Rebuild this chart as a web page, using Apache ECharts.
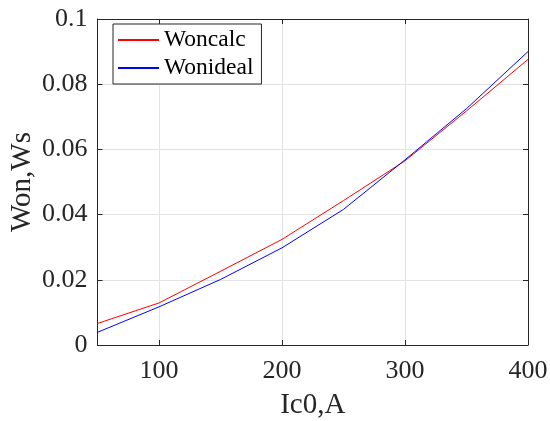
<!DOCTYPE html>
<html>
<head>
<meta charset="utf-8">
<script src="https://cdn.jsdelivr.net/npm/echarts@6/dist/echarts.min.js"></script>
<style>
  html, body { margin: 0; padding: 0; background: #fff; }
  #chart { width: 550px; height: 421px; }
</style>
</head>
<body>
<div id="chart"></div>
<script>
// Turn-on energy versus collector current
const current = [50, 100, 150, 200, 250, 300, 350, 400];
const wonCalc = [0.0066, 0.0129, 0.0226, 0.0324, 0.0443, 0.0565, 0.0718, 0.0876];
const wonIdeal = [0.0039, 0.0117, 0.0201, 0.0298, 0.0416, 0.0568, 0.0725, 0.0900];
const seriesNames = ['Woncalc', 'Wonideal'];
const xTicks = [100, 200, 300, 400];
const yTicks = [0, 0.02, 0.04, 0.06, 0.08, 0.1];

const FONT = '"Liberation Serif", "Times New Roman", serif';
const AXIS = '#262626';
const GRID = '#e3e3e3';

const pairs = (xs, ys) => xs.map((x, i) => [x, ys[i]]);

const chart = echarts.init(document.getElementById('chart'), null, { renderer: 'canvas' });

const baseX = {
  type: 'value', min: 50, max: 400, interval: 50,
  axisLine: { show: true, onZero: false, lineStyle: { color: AXIS, width: 1 } },
  splitLine: { show: false }
};
const baseY = {
  type: 'value', min: 0, max: 0.1, interval: 0.02,
  axisLine: { show: true, onZero: false, lineStyle: { color: AXIS, width: 1 } },
  splitLine: { show: true, lineStyle: { color: GRID, width: 1 } }
};

chart.setOption({
  backgroundColor: '#ffffff',
  animation: false,
  grid: { left: 97.5, right: 22, top: 19, bottom: 76, containLabel: false, outerBoundsMode: 'none' },
  xAxis: [
    Object.assign({}, baseX, {
      position: 'bottom',
      name: 'Ic0,A', nameLocation: 'middle', nameGap: 46, nameMoveOverlap: false,
      nameTextStyle: { fontFamily: FONT, fontSize: 29, color: AXIS },
      axisTick: { show: true, inside: true, length: 5, lineStyle: { color: AXIS },
        customValues: xTicks },
      axisLabel: { show: true, fontFamily: FONT, fontSize: 26, color: AXIS, margin: 13,
        customValues: xTicks },
      splitLine: { show: true, lineStyle: { color: GRID, width: 1 } }
    }),
    Object.assign({}, baseX, {
      position: 'top',
      axisTick: { show: true, inside: true, length: 5, lineStyle: { color: AXIS },
        customValues: xTicks },
      axisLabel: { show: false }
    })
  ],
  yAxis: [
    Object.assign({}, baseY, {
      position: 'left',
      name: 'Won,Ws', nameLocation: 'middle', nameGap: 61, nameMoveOverlap: false,
      nameTextStyle: { fontFamily: FONT, fontSize: 29, color: AXIS },
      axisTick: { show: true, inside: true, length: 5, lineStyle: { color: AXIS } },
      axisLabel: { show: true, fontFamily: FONT, fontSize: 26, color: AXIS, margin: 10,
        customValues: yTicks,
        formatter: v => String(+v.toFixed(2)) }
    }),
    Object.assign({}, baseY, {
      position: 'right',
      axisTick: { show: true, inside: true, length: 5, lineStyle: { color: AXIS } },
      axisLabel: { show: false },
      splitLine: { show: false }
    })
  ],
  legend: {
    data: seriesNames,
    orient: 'vertical',
    left: 113, top: 24,
    padding: [4, 8, 4, 4],
    itemGap: 4,
    itemWidth: 41, itemHeight: 12,
    itemTextGap: 5,
    borderColor: AXIS, borderWidth: 1,
    backgroundColor: '#ffffff',
    itemStyle: { opacity: 0 },
    textStyle: { fontFamily: FONT, fontSize: 23.5, color: '#000', lineHeight: 24 }
  },
  series: [
    {
      name: seriesNames[0], type: 'line', data: pairs(current, wonCalc),
      symbol: 'none', lineStyle: { color: '#ff0000', width: 1 }, itemStyle: { color: '#ff0000' }
    },
    {
      name: seriesNames[1], type: 'line', data: pairs(current, wonIdeal),
      symbol: 'none', lineStyle: { color: '#0000ff', width: 1 }, itemStyle: { color: '#0000ff' }
    }
  ]
});
</script>
</body>
</html>
